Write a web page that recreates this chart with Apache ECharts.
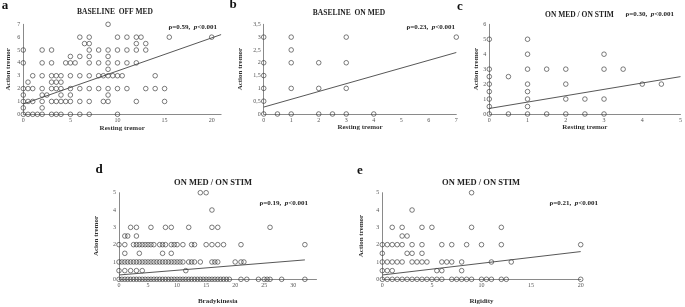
<!DOCTYPE html>
<html><head><meta charset="utf-8">
<script src="https://cdn.jsdelivr.net/npm/echarts@6/dist/echarts.min.js"></script>
<style>html,body{margin:0;padding:0;background:#fff}#c{width:685px;height:307px}</style>
</head><body><div id="c"></div>
<script>
// ---- Panel a: BASELINE OFF MED (Resting tremor vs Action tremor)
const aRowY = [7, 6, 5.5, 5, 4.5, 4, 3.5, 3, 2.5, 2, 1.5, 1, 0.5, 0];
const aRowX = [
  [9],
  [6, 7, 10, 11, 12, 12.5, 15.5, 20],
  [6.5, 7, 12, 13],
  [0, 2, 3, 7, 8, 9, 10, 11, 12, 13],
  [5, 6, 7, 9],
  [0, 2, 3, 4.5, 5, 5.5, 7, 8, 9, 10, 11, 12],
  [9],
  [1, 2, 3, 3.5, 4, 5, 6, 7, 8, 8.5, 9, 9.5, 10, 10.5, 14],
  [0.5, 3, 3.5, 4],
  [0, 0.5, 1, 2, 3, 3.5, 4, 5, 6, 7, 8, 9, 10, 11, 13, 14, 15],
  [0, 2, 2.5, 4, 5, 9],
  [0, 0.5, 1, 2, 3, 3.5, 4, 4.5, 5, 6, 7, 8.5, 9, 12, 15],
  [0, 2],
  [0, 0.5, 1, 1.5, 2, 3, 3.5, 4, 5, 6, 7, 10]
];
const aTrendX = [0, 21], aTrendY = [0.8, 6.2];

// ---- Panel b: BASELINE ON MED
const bRowY = [3, 2.5, 2, 1.5, 1, 0.5, 0];
const bRowX = [
  [0, 1, 3, 7],
  [1],
  [0, 1, 2, 3],
  [0],
  [0, 1, 2, 3],
  [0],
  [0, 0.5, 1, 2, 2.5, 3, 4]
];
const bTrendX = [0, 7], bTrendY = [0.27, 2.4];

// ---- Panel c: ON MED / ON STIM (Resting tremor)
const cRowY = [5, 4, 3, 2.5, 2, 1.5, 1, 0.5, 0];
const cRowX = [
  [0, 1],
  [1, 3],
  [0, 1, 1.5, 2, 3, 3.5],
  [0, 0.5],
  [0, 1, 2, 4, 4.5],
  [0, 1],
  [0, 1, 2, 2.5, 3],
  [0, 1],
  [0, 0.5, 1, 1.5, 2, 2.5, 3]
];
const cTrendX = [0, 5], cTrendY = [0.37, 2.5];

// ---- Panel d: ON MED / ON STIM (Bradykinesia)
const dRowY = [5, 4, 3, 2.5, 2, 1.5, 1, 0.5, 0];
const dRowX = [
  [14, 15],
  [16],
  [2, 3, 5.5, 8, 9, 12, 16, 17, 26],
  [1, 1.5, 3],
  [0, 1, 2.5, 3, 3.5, 4, 4.5, 5, 5.5, 6, 7, 7.5, 8, 9, 9.5, 10, 11, 12.5, 13, 15, 16, 17, 18, 21, 32],
  [1, 3.5, 7.5, 9],
  [0, 0.5, 1, 1.5, 2, 2.5, 3, 3.5, 4, 4.5, 5, 5.5, 6, 6.5, 7, 7.5, 8, 8.5, 9, 9.5, 10, 10.5, 11, 12, 12.5, 13, 14, 16, 16.5, 17, 20, 21, 21.5],
  [0, 1, 2, 3, 4, 11.5],
  [0, 0.5, 1, 1.5, 2, 2.5, 3, 3.5, 4, 4.5, 5, 5.5, 6, 6.5, 7, 7.5, 8, 8.5, 9, 9.5, 10, 10.5, 11, 11.5, 12, 12.5, 13, 13.5, 14, 14.5, 15, 15.5, 16, 16.5, 17, 17.5, 18, 18.5, 19, 21, 22, 24, 25, 25.5, 26, 28, 32]
];
const dTrendX = [0, 32], dTrendY = [0.25, 1.12];

// ---- Panel e: ON MED / ON STIM (Rigidity)
const eRowY = [5, 4, 3, 2.5, 2, 1.5, 1, 0.5, 0];
const eRowX = [
  [9],
  [3],
  [1, 2, 4, 5, 9, 12],
  [2, 2.5],
  [0, 0.5, 1, 1.5, 2, 3, 4, 6, 7, 8.5, 10, 12, 20],
  [0, 2.5, 3, 4],
  [0, 0.5, 1, 1.5, 2, 3, 3.5, 4, 4.5, 6, 6.5, 7, 8, 11, 13],
  [0, 0.5, 1, 5.5, 6, 8],
  [0, 0.5, 1, 1.5, 2, 2.5, 3, 3.5, 4, 4.5, 5, 5.5, 6, 7, 7.5, 8, 8.5, 9, 10, 10.5, 11, 12, 12.5, 20]
];
const eTrendX = [0, 20], eTrendY = [0.25, 1.6];

const titles = ['BASELINE  OFF MED', 'BASELINE  ON MED', 'ON MED / ON STIM', 'ON MED / ON STIM', 'ON MED / ON STIM'];
const letters = ['a', 'b', 'c', 'd', 'e'];
const rhos = ['0.59', '0.23', '0.30', '0.19', '0.21'];
const xNames = ['Resting tremor', 'Resting tremor', 'Resting tremor', 'Bradykinesia', 'Rigidity'];
const yNames = ['Action tremor', 'Action tremor', 'Action tremor', 'Acion tremor', 'Action tremor'];

function pts(rowY, rowX) {
  const out = [];
  rowY.forEach((y, i) => rowX[i].forEach(x => out.push([x, y])));
  return out;
}
function zip(xs, ys) { return xs.map((x, i) => [x, ys[i]]); }

const panels = [
  {pts: pts(aRowY, aRowX), tr: zip(aTrendX, aTrendY), grid: {left: 23.3, top: 24.3, width: 197.8, height: 90}, xmax: 21, xint: 5, ymax: 7, yint: 1, xgap: 8, ygap: 12, title: [115, 12.5], letter: [5, 6], rho: [217, 27], tsize: 7.5},
  {pts: pts(bRowY, bRowX), tr: zip(bTrendX, bTrendY), grid: {left: 263.7, top: 24.3, width: 192.6, height: 89.7}, xmax: 7, xint: 1, ymax: 3.5, yint: 0.5, xgap: 8, ygap: 20, title: [349, 13], letter: [233, 5], rho: [455, 27], comma: true, tsize: 7.5},
  {pts: pts(cRowY, cRowX), tr: zip(cTrendX, cTrendY), grid: {left: 489.3, top: 24.3, width: 193.4, height: 89.7}, xmax: 5, xint: 1, ymax: 6, yint: 1, xgap: 8, ygap: 6, title: [579.5, 15], letter: [460, 7], rho: [674, 14], tsize: 7.5},
  {pts: pts(dRowY, dRowX), tr: zip(dTrendX, dTrendY), grid: {left: 119, top: 192.7, width: 197.5, height: 86.6}, xmax: 34, xint: 5, ymax: 5, yint: 1, xgap: 18, ygap: 19, title: [213, 182.3], letter: [99, 170], rho: [308, 203], tsize: 8.5},
  {pts: pts(eRowY, eRowX), tr: zip(eTrendX, eTrendY), grid: {left: 382.3, top: 192.7, width: 198.4, height: 86.6}, xmax: 20, xint: 5, ymax: 5, yint: 1, xgap: 18, ygap: 18, title: [481, 182.3], letter: [360, 171], rho: [598, 203], tsize: 8.5}
];

const FONT = 'Liberation Serif';
const axisLineStyle = {show: true, lineStyle: {color: '#8a8a8a', width: 1}};
const labelBase = {color: '#555', fontSize: 6, fontFamily: FONT, margin: 3};
const nameStyle = {color: '#333', fontSize: 7, fontWeight: 'bold', fontFamily: FONT};

const option = {
  animation: false,
  backgroundColor: '#fff',
  grid: [], xAxis: [], yAxis: [], series: [], graphic: []
};

panels.forEach((p, i) => {
  option.grid.push(Object.assign({containLabel: false}, p.grid));
  option.xAxis.push({
    type: 'value', gridIndex: i, min: 0, max: p.xmax, interval: p.xint,
    axisLine: Object.assign({onZero: false}, axisLineStyle), axisTick: {show: false}, splitLine: {show: false},
    axisLabel: Object.assign({}, labelBase, {showMaxLabel: p.xmax % p.xint === 0}),
    name: xNames[i], nameLocation: 'middle', nameGap: p.xgap, nameTextStyle: nameStyle
  });
  option.yAxis.push({
    type: 'value', gridIndex: i, min: 0, max: p.ymax, interval: p.yint,
    axisLine: Object.assign({onZero: false}, axisLineStyle), axisTick: {show: false}, splitLine: {show: false},
    axisLabel: Object.assign({}, labelBase, p.comma ? {formatter: v => String(v).replace('.', ',')} : {}),
    name: yNames[i], nameLocation: 'middle', nameGap: p.ygap, nameRotate: 90, nameTextStyle: nameStyle
  });
  option.series.push({
    type: 'scatter', xAxisIndex: i, yAxisIndex: i, data: p.pts, symbol: 'circle', symbolSize: 4.6,
    itemStyle: {color: 'rgba(255,255,255,0)', borderColor: '#333', borderWidth: 0.8}, z: 3
  });
  option.series.push({
    type: 'line', xAxisIndex: i, yAxisIndex: i, data: p.tr, showSymbol: false, symbol: 'none',
    lineStyle: {color: '#444', width: 0.9}, z: 4, silent: true
  });
  option.graphic.push({
    type: 'text', x: p.title[0], y: p.title[1],
    style: {text: titles[i], fontFamily: FONT, fontWeight: 'bold', fontSize: p.tsize, fill: '#222', align: 'center', verticalAlign: 'middle'}
  });
  option.graphic.push({
    type: 'text', x: p.letter[0], y: p.letter[1],
    style: {text: letters[i], fontFamily: FONT, fontWeight: 'bold', fontSize: 13, fill: '#111', align: 'center', verticalAlign: 'middle'}
  });
  option.graphic.push({
    type: 'text', x: p.rho[0], y: p.rho[1],
    style: {
      text: '{b|ρ=' + rhos[i] + ',  }{i|p}{b|<0.001}',
      align: 'right', verticalAlign: 'middle',
      rich: {
        b: {fontFamily: FONT, fontWeight: 'bold', fontSize: 7, fill: '#222'},
        i: {fontFamily: FONT, fontWeight: 'bold', fontStyle: 'italic', fontSize: 7, fill: '#222'}
      }
    }
  });
});

const chart = echarts.init(document.getElementById('c'), null, {renderer: 'canvas'});
chart.setOption(option);
</script>
</body></html>
